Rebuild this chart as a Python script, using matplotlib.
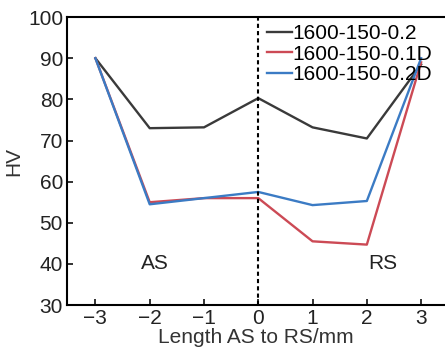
import matplotlib
matplotlib.use('Agg')
import matplotlib.pyplot as plt

plt.rcParams['font.family'] = ['Liberation Sans', 'DejaVu Sans']

# hardness profile across the weld, AS (-) to RS (+)
length = [-3, -2, -1, 0, 1, 2, 3]
hv_02 = [90, 73, 73.2, 80.3, 73.2, 70.5, 88.5]
hv_01D = [90, 55, 56, 56, 45.5, 44.7, 89]
hv_02D = [90, 54.5, 56, 57.5, 54.3, 55.3, 90]
labels = ['1600-150-0.2', '1600-150-0.1D', '1600-150-0.2D']
colors = ['#3a3a3a', '#cc4a55', '#3b7bc4']

fig = plt.figure(figsize=(4.45, 3.56), dpi=100)
ax = fig.add_axes([0.151, 0.143, 0.849, 0.809])

for y, lab, c in zip([hv_02, hv_01D, hv_02D], labels, colors):
    ax.plot(length, y, color=c, lw=1.7, label=lab)

ax.axvline(0, color='black', ls=(0, (2, 1.5)), lw=1.5)
ax.text(-1.9, 40, 'AS', fontsize=15, ha='center', va='center', color='#222222')
ax.text(2.3, 40, 'RS', fontsize=15, ha='center', va='center', color='#222222')

ax.set_xlim(-3.52, 3.44)
ax.set_ylim(30, 100)
ax.set_xticks(length)
ax.set_xticklabels(['\u22123', '\u22122', '\u22121', '0', '1', '2', '3'])
ax.set_yticks(range(30, 101, 10))
ax.tick_params(direction='in', labelsize=15, width=1.3, length=4, colors='#222222', pad=3)
ax.spines['right'].set_visible(False)
for s in ['left', 'top', 'bottom']:
    ax.spines[s].set_linewidth(1.5)
ax.set_xlabel('Length AS to RS/mm', fontsize=15, labelpad=0, color='#333333')
ax.set_ylabel('HV', fontsize=15, labelpad=3, color='#333333')

ax.legend(loc='upper left', bbox_to_anchor=(0.53, 0.975), frameon=False, fontsize=15,
          handlelength=1.2, handletextpad=0.0, labelspacing=0.07, borderaxespad=0.0,
          borderpad=0.0)

fig.savefig('out.png', dpi=100)
